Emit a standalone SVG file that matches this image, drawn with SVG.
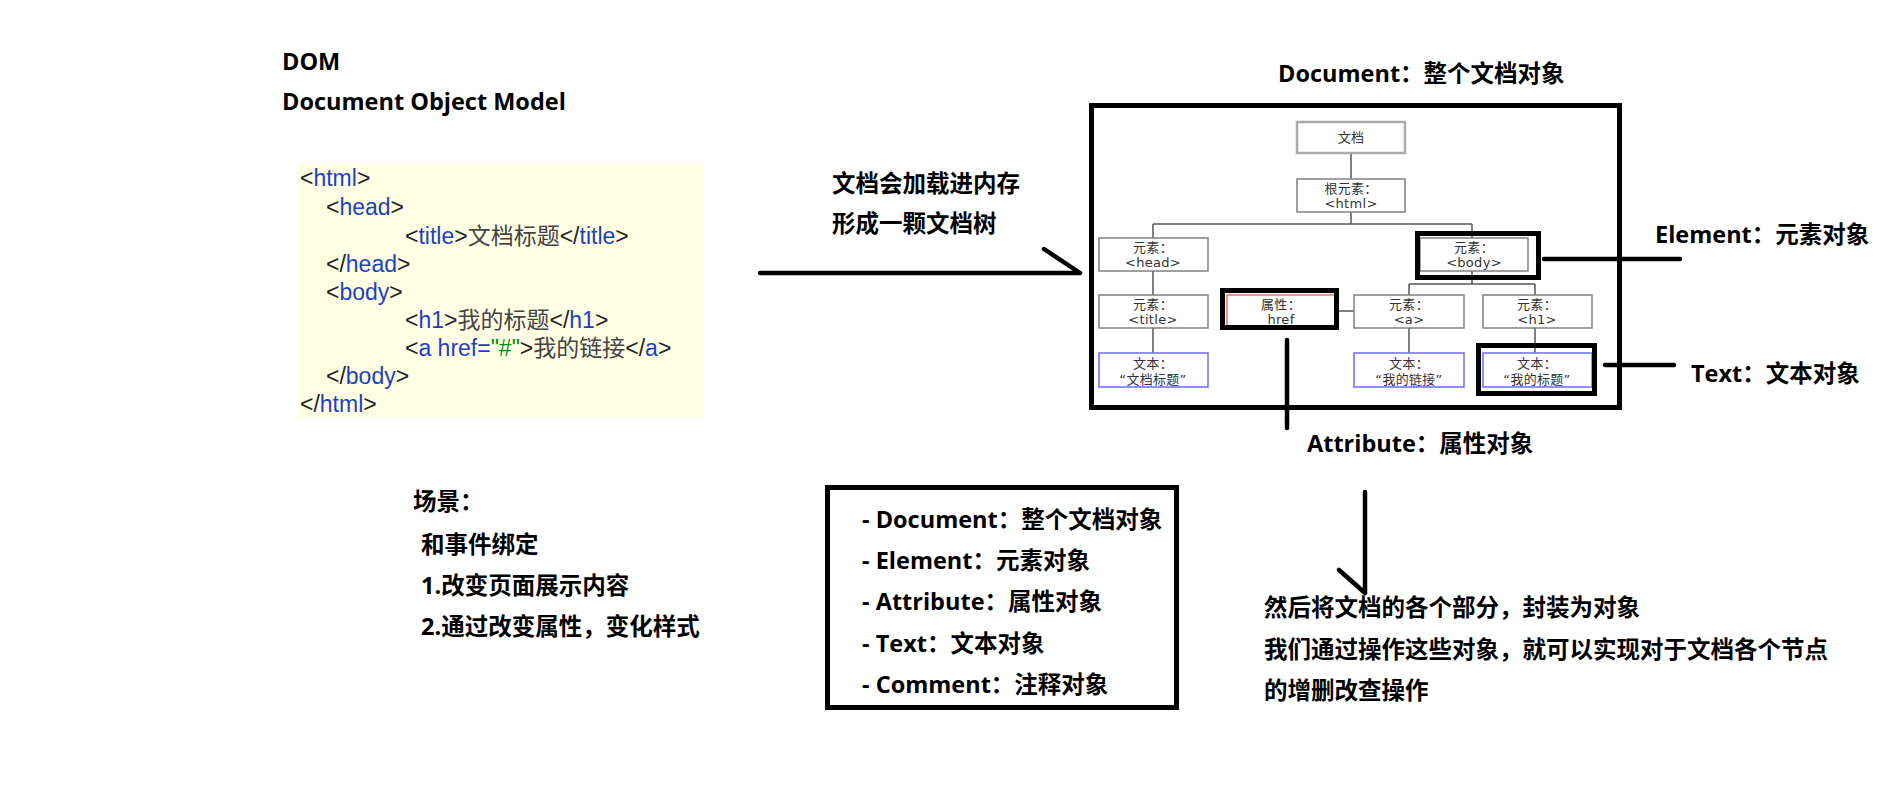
<svg xmlns="http://www.w3.org/2000/svg" width="1900" height="805" viewBox="0 0 1900 805">
<style>
  .b { font-family: "Open Sans", "Noto Sans CJK SC", sans-serif; font-weight: bold; font-size: 23.5px; fill: #000; }
  .code { font-family: "Liberation Sans", "Noto Sans CJK SC", sans-serif; font-size: 23px; fill: #222; }
  .tag { fill: #1f3fbf; }
  .str { fill: #0a8a0a; }
  .zh { fill: #444; }
  .nt { font-family: "DejaVu Sans", "Noto Sans CJK SC", sans-serif; font-size: 13px; fill: #333; text-anchor: middle; letter-spacing: 0.3px; }
  .node { fill: #fff; stroke: #808080; stroke-width: 1.5; }
  .txt { fill: #fff; stroke: #6a6aff; stroke-width: 1.5; }
  .tl { stroke: #555; stroke-width: 1.5; fill: none; }
  .hl { fill: none; stroke: #000; stroke-width: 5; }
  .cl { stroke: #000; stroke-width: 4.5; stroke-linecap: round; fill: none; }
</style>

<g id="title">
  <text class="b" x="282" y="70">DOM</text>
  <text class="b" x="282" y="110">Document Object Model</text>
</g>

<g id="code">
  <rect x="298" y="163" width="405" height="255" fill="#ffffe6"/>
  <text class="code" x="300" y="186">&lt;<tspan class="tag">html</tspan>&gt;</text>
  <text class="code" x="326" y="215">&lt;<tspan class="tag">head</tspan>&gt;</text>
  <text class="code" x="405" y="244">&lt;<tspan class="tag">title</tspan>&gt;<tspan class="zh">文档标题</tspan>&lt;/<tspan class="tag">title</tspan>&gt;</text>
  <text class="code" x="326" y="272">&lt;/<tspan class="tag">head</tspan>&gt;</text>
  <text class="code" x="326" y="300">&lt;<tspan class="tag">body</tspan>&gt;</text>
  <text class="code" x="405" y="328">&lt;<tspan class="tag">h1</tspan>&gt;<tspan class="zh">我的标题</tspan>&lt;/<tspan class="tag">h1</tspan>&gt;</text>
  <text class="code" x="405" y="356">&lt;<tspan class="tag">a href=</tspan><tspan class="str">"#"</tspan>&gt;<tspan class="zh">我的链接</tspan>&lt;/<tspan class="tag">a</tspan>&gt;</text>
  <text class="code" x="326" y="384">&lt;/<tspan class="tag">body</tspan>&gt;</text>
  <text class="code" x="300" y="412">&lt;/<tspan class="tag">html</tspan>&gt;</text>
</g>

<g id="load-label">
  <text class="b" x="832" y="192">文档会加载进内存</text>
  <text class="b" x="832" y="232">形成一颗文档树</text>
</g>

<g id="doc-label">
  <text class="b" x="1278" y="82">Document：整个文档对象</text>
</g>

<g id="dom-tree">
  <rect class="hl" x="1091.5" y="105.5" width="528" height="302"/>
  <g id="tree-lines">
    <path class="tl" d="M1351 153 V179 M1351 212 V224 M1153 224 H1472 M1153 224 V238 M1472 224 V238 M1153 271 V295 M1153 328 V353 M1472 271 V284 M1409 284 H1535 M1409 284 V295 M1535 284 V295 M1409 328 V353 M1535 328 V353 M1339 311 H1354"/>
  </g>
  <g id="n-doc">
    <rect x="1297" y="122" width="108" height="31" fill="#fff" stroke="#aaa" stroke-width="2.5"/>
    <text class="nt" x="1351" y="142">文档</text>
  </g>
  <g id="n-html">
    <rect class="node" x="1297" y="179" width="108" height="33"/>
    <text class="nt" x="1351" y="193">根元素：</text>
    <text class="nt" x="1351" y="208">&lt;html&gt;</text>
  </g>
  <g id="n-head">
    <rect class="node" x="1099" y="238" width="109" height="33"/>
    <text class="nt" x="1153" y="252">元素：</text>
    <text class="nt" x="1153" y="267">&lt;head&gt;</text>
  </g>
  <g id="n-body">
    <rect class="node" x="1420" y="238" width="108" height="33"/>
    <text class="nt" x="1474" y="252">元素：</text>
    <text class="nt" x="1474" y="267">&lt;body&gt;</text>
  </g>
  <g id="n-title">
    <rect class="node" x="1099" y="295" width="109" height="33"/>
    <text class="nt" x="1153" y="309">元素：</text>
    <text class="nt" x="1153" y="324">&lt;title&gt;</text>
  </g>
  <g id="n-attr">
    <rect x="1227" y="295" width="109" height="33" fill="#fff" stroke="#f07070" stroke-width="1.5"/>
    <text class="nt" x="1281" y="309">属性：</text>
    <text class="nt" x="1281" y="324">href</text>
  </g>
  <g id="n-a">
    <rect class="node" x="1354" y="295" width="110" height="33"/>
    <text class="nt" x="1409" y="309">元素：</text>
    <text class="nt" x="1409" y="324">&lt;a&gt;</text>
  </g>
  <g id="n-h1">
    <rect class="node" x="1483" y="295" width="109" height="33"/>
    <text class="nt" x="1537" y="309">元素：</text>
    <text class="nt" x="1537" y="324">&lt;h1&gt;</text>
  </g>
  <g id="n-t1">
    <rect class="txt" x="1099" y="353" width="109" height="34"/>
    <text class="nt" x="1153" y="368">文本：</text>
    <text class="nt" x="1153" y="384">“文档标题”</text>
  </g>
  <g id="n-t2">
    <rect class="txt" x="1354" y="353" width="110" height="34"/>
    <text class="nt" x="1409" y="368">文本：</text>
    <text class="nt" x="1409" y="384">“我的链接”</text>
  </g>
  <g id="n-t3">
    <rect class="txt" x="1483" y="353" width="109" height="34"/>
    <text class="nt" x="1537" y="368">文本：</text>
    <text class="nt" x="1537" y="384">“我的标题”</text>
  </g>
  <g id="highlights">
    <rect class="hl" x="1417.5" y="233.5" width="121" height="44"/>
    <rect class="hl" x="1222.5" y="290.5" width="114" height="37"/>
    <rect class="hl" x="1478.5" y="345.5" width="116" height="48"/>
  </g>
</g>

<g id="connectors">
  <path class="cl" d="M760 273 H1080 M1044 249 L1080 273"/>
  <path class="cl" d="M1544 259 H1680"/>
  <path class="cl" d="M1605 365 H1674"/>
  <path class="cl" d="M1287 340 V428"/>
  <path class="cl" d="M1365 492 V593 M1339 570 L1365 593"/>
</g>

<g id="element-label"><text class="b" x="1655" y="243">Element：元素对象</text></g>
<g id="text-label"><text class="b" x="1691" y="382">Text：文本对象</text></g>
<g id="attr-label"><text class="b" x="1307" y="452">Attribute：属性对象</text></g>

<g id="scene">
  <text class="b" x="413" y="510">场景：</text>
  <text class="b" x="421" y="553">和事件绑定</text>
  <text class="b" x="421" y="594">1.改变页面展示内容</text>
  <text class="b" x="421" y="635">2.通过改变属性，变化样式</text>
</g>

<g id="type-list">
  <rect class="hl" x="827.5" y="487.5" width="349" height="220"/>
  <text class="b" x="862" y="528">- Document：整个文档对象</text>
  <text class="b" x="862" y="569">- Element：元素对象</text>
  <text class="b" x="862" y="610">- Attribute：属性对象</text>
  <text class="b" x="862" y="652">- Text：文本对象</text>
  <text class="b" x="862" y="693">- Comment：注释对象</text>
</g>

<g id="summary">
  <text class="b" x="1264" y="616">然后将文档的各个部分，封装为对象</text>
  <text class="b" x="1264" y="658">我们通过操作这些对象，就可以实现对于文档各个节点</text>
  <text class="b" x="1264" y="699">的增删改查操作</text>
</g>
</svg>
